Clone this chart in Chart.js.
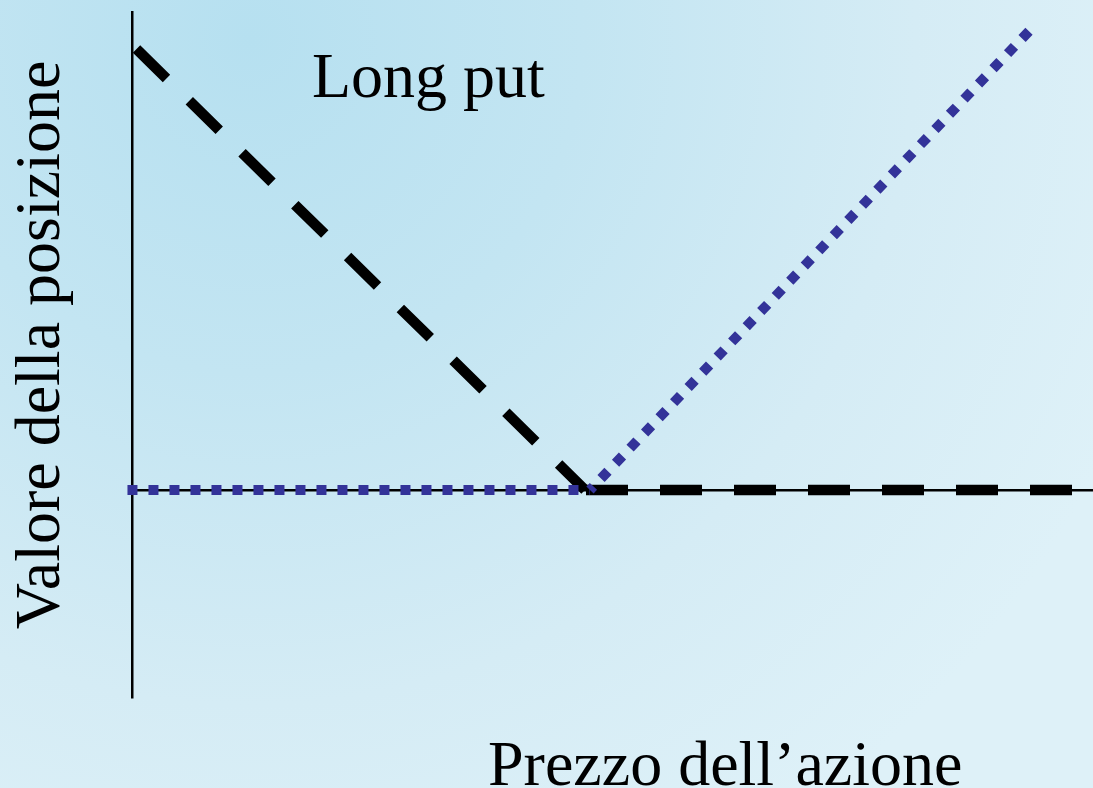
<!DOCTYPE html>
<html><head><meta charset="utf-8">
<script src="https://cdn.jsdelivr.net/npm/chart.js@4.4.1/dist/chart.umd.min.js"></script>
<style>
html,body{margin:0;padding:0;overflow:hidden;background:#d8edf6}
#wrap{position:relative;width:1093px;height:788px}
canvas{display:block}
</style></head>
<body><div id="wrap"><canvas id="c" width="1093" height="788"></canvas></div>
<script>
// Text
const chartTitle = "Long put";
const xAxisTitle = "Prezzo dell\u2019azione";
const yAxisTitle = "Valore della posizione";

// Long put payoff (dashed black)
const putPrice = [0.5, 50, 104.8];
const putValue = [49.5, 0, 0];

// Long call payoff (dotted blue)
const callPrice = [-0.5, 50.55, 99.2];
const callValue = [0, 0, 51.7];

// Axis ranges
const xRange = [0, 106.07];
const yRange = [-23.23, 53.65];

const bgPlugin = {
  id: 'bg',
  beforeDraw(chart) {
    const ctx = chart.ctx, w = chart.width, h = chart.height;
    ctx.save();
    const g = ctx.createRadialGradient(250, 40, 0, 250, 40, 950);
    g.addColorStop(0, '#b6e0f0');
    g.addColorStop(0.35, '#c3e5f2');
    g.addColorStop(0.7, '#d5ecf5');
    g.addColorStop(1, '#def1f8');
    ctx.fillStyle = g;
    ctx.fillRect(0, 0, w, h);
    ctx.restore();
  }
};

const textPlugin = {
  id: 'texts',
  afterDraw(chart) {
    const ctx = chart.ctx;
    ctx.save();
    ctx.fillStyle = '#000';
    ctx.font = "64px 'Liberation Serif', 'Times New Roman', serif";
    ctx.textBaseline = 'alphabetic';
    ctx.textAlign = 'left';
    ctx.fillText(chartTitle, 312, 97);
    ctx.fillText(xAxisTitle, 488, 785);
    ctx.translate(58.5, 345);
    ctx.rotate(-Math.PI / 2);
    ctx.textAlign = 'center';
    ctx.fillText(yAxisTitle, 0, 0);
    ctx.restore();
  }
};

new Chart(document.getElementById('c'), {
  type: 'line',
  data: {
    datasets: [
      {
        label: 'Long put',
        data: putPrice.map((x, i) => ({x, y: putValue[i]})),
        borderColor: '#000000',
        borderWidth: 10.5,
        borderDash: [42, 32],
        borderCapStyle: 'butt',
        borderJoinStyle: 'miter',
        fill: false,
        tension: 0,
        clip: false,
        order: 1,
        segment: { borderDashOffset: c => c.p0DataIndex === 0 ? 0 : 73 }
      },
      {
        label: 'Call',
        data: callPrice.map((x, i) => ({x, y: callValue[i]})),
        borderColor: '#333399',
        borderWidth: 10,
        borderDash: [10, 11],
        borderCapStyle: 'butt',
        borderJoinStyle: 'miter',
        fill: false,
        tension: 0,
        clip: false,
        order: 0,
        segment: { borderDashOffset: c => c.p0DataIndex === 0 ? 0 : 5 }
      }
    ]
  },
  options: {
    responsive: false,
    animation: false,
    devicePixelRatio: 1,
    layout: { padding: { left: 132, top: 12, right: 0, bottom: 91 } },
    plugins: { legend: { display: false }, tooltip: { enabled: false }, title: { display: false } },
    elements: { point: { radius: 0, hoverRadius: 0 } },
    scales: {
      x: {
        type: 'linear', min: xRange[0], max: xRange[1],
        ticks: { display: false },
        grid: { display: false, drawTicks: false },
        border: { display: false }
      },
      y: {
        type: 'linear', min: yRange[0], max: yRange[1],
        afterBuildTicks: s => { s.ticks = [{ value: 0 }]; },
        ticks: { display: false },
        grid: { drawTicks: false, color: '#000000', lineWidth: 2.5 },
        border: { display: true, color: '#000000', width: 2.5 }
      }
    }
  },
  plugins: [bgPlugin, textPlugin]
});
</script>
</body></html>
